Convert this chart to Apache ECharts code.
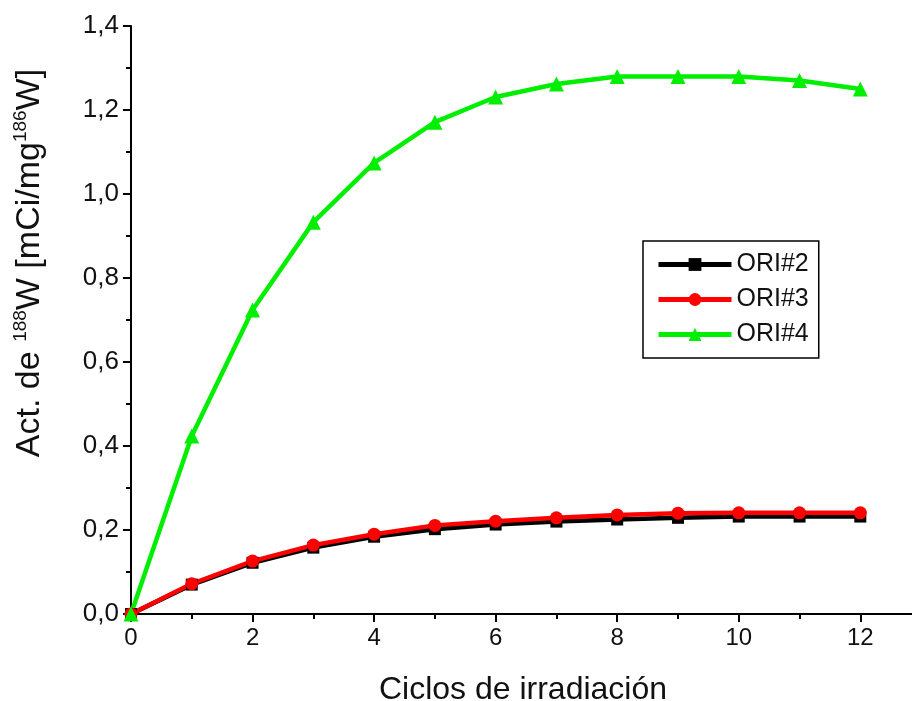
<!DOCTYPE html>
<html>
<head>
<meta charset="utf-8">
<script src="https://cdn.jsdelivr.net/npm/echarts@6/dist/echarts.min.js"></script>
<style>
  html, body { margin: 0; padding: 0; background: #fff; }
  #main { width: 912px; height: 701px; }
</style>
</head>
<body>
<div id="main"></div>
<script>
// ciclos de irradiacion
var ciclos = [0, 1, 2, 3, 4, 5, 6, 7, 8, 9, 10, 11, 12];
var ori2 = [0, 0.07, 0.122, 0.158, 0.184, 0.202, 0.213, 0.220, 0.225, 0.229, 0.232, 0.232, 0.232];
var ori3 = [0, 0.072, 0.126, 0.164, 0.190, 0.211, 0.221, 0.229, 0.236, 0.240, 0.241, 0.241, 0.241];
var ori4 = [0, 0.424, 0.724, 0.933, 1.074, 1.171, 1.231, 1.262, 1.28, 1.28, 1.28, 1.27, 1.25];

function pares(ys) {
  return ciclos.map(function (x, i) { return [x, ys[i]]; });
}

var fuente = 'Liberation Sans, Arial, sans-serif';

var option = {
  backgroundColor: '#fff',
  animation: false,
  grid: { left: 131, right: -3, top: 26, bottom: 87, outerBoundsMode: 'none' },
  legend: {
    left: 643,
    top: 241,
    orient: 'vertical',
    itemWidth: 73,
    itemHeight: 16,
    itemGap: 10,
    padding: [11, 10, 11, 13],
    borderColor: '#000',
    borderWidth: 1.5,
    lineStyle: { width: 5 },
    textStyle: { fontFamily: fuente, fontSize: 25, color: '#111' },
    data: ['ORI#2', 'ORI#3', 'ORI#4']
  },
  xAxis: {
    type: 'value',
    min: 0,
    max: 12.9,
    interval: 2,
    name: 'Ciclos de irradiación',
    nameLocation: 'middle',
    nameGap: 60,
    nameTextStyle: { fontFamily: fuente, fontSize: 32, color: '#111' },
    axisLine: { lineStyle: { color: '#000', width: 2 } },
    axisTick: {
      inside: false, length: 8,
      lineStyle: { color: '#000', width: 2 }
    },
    minorTick: { show: true, splitNumber: 2, length: 5, lineStyle: { color: '#000', width: 2 } },
    axisLabel: {
      fontFamily: fuente, fontSize: 24, color: '#111', margin: 12,
      formatter: function (v) { return (v % 2 === 0 && v <= 12) ? String(v) : ''; }
    },
    splitLine: { show: false }
  },
  yAxis: {
    type: 'value',
    min: 0,
    max: 1.4,
    interval: 0.2,
    name: '{n|Act. de }{s|188}{n|W [mCi/mg}{s|186}{n|W]}',
    nameLocation: 'middle',
    nameRotate: 90,
    nameGap: 84,
    nameTextStyle: {
      padding: [0, 0, 0, 114],
      rich: {
        n: { fontFamily: fuente, fontSize: 34, color: '#111', verticalAlign: 'bottom', lineHeight: 36 },
        s: { fontFamily: fuente, fontSize: 19, color: '#111', verticalAlign: 'top', lineHeight: 36, padding: [0, 0, 16, 0] }
      }
    },
    axisLine: { show: true, lineStyle: { color: '#000', width: 2 } },
    axisTick: { show: true, inside: false, length: 8, lineStyle: { color: '#000', width: 2 } },
    minorTick: { show: true, splitNumber: 2, length: 5, lineStyle: { color: '#000', width: 2 } },
    axisLabel: {
      fontFamily: fuente, fontSize: 26, color: '#111', margin: 12,
      formatter: function (v) { return v.toFixed(1).replace('.', ','); }
    },
    splitLine: { show: false }
  },
  series: [
    {
      name: 'ORI#2', type: 'line', data: pares(ori2),
      symbol: 'rect', symbolSize: 12,
      lineStyle: { color: '#000', width: 4.5 },
      itemStyle: { color: '#000' }
    },
    {
      name: 'ORI#3', type: 'line', data: pares(ori3),
      symbol: 'circle', symbolSize: 13,
      lineStyle: { color: '#ff0000', width: 4.5 },
      itemStyle: { color: '#ff0000' }
    },
    {
      name: 'ORI#4', type: 'line', data: pares(ori4),
      symbol: 'triangle', symbolSize: 15,
      lineStyle: { color: '#00ee00', width: 4.5 },
      itemStyle: { color: '#00ee00' }
    }
  ]
};

var grafico = echarts.init(document.getElementById('main'));
grafico.setOption(option);
</script>
</body>
</html>
